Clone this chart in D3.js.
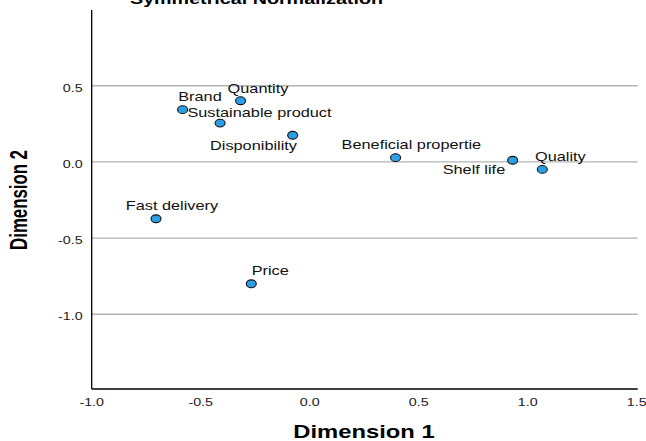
<!DOCTYPE html>
<html><head><meta charset="utf-8">
<script src="https://cdn.jsdelivr.net/npm/d3@7"></script>
<style>body{margin:0;background:#fff}svg{display:block}text{font-family:"Liberation Sans",Arial,sans-serif}</style>
</head><body><svg id="c" width="646" height="441"></svg>
<script>
const labels = ["Brand","Quantity","Sustainable product","Disponibility","Beneficial propertie","Shelf life","Quality","Fast delivery","Price"];
const dim1 = [-0.583,-0.317,-0.411,-0.078,0.394,0.931,1.067,-0.705,-0.268];
const dim2 = [0.343,0.402,0.255,0.175,0.028,0.011,-0.049,-0.373,-0.800];
const xTicks = [-1.0,-0.5,0.0,0.5,1.0,1.5];
const yTicks = [0.5,0.0,-0.5,-1.0];
// label placement (layout only): pixel offset of text start/baseline from its point
const labelOffset = [[-4.4,-9],[-13,-7.7],[-32.7,-6.3],[-82.7,14.7],[-54,-8.7],[-70,14],[-7.3,-8.6],[-30.3,-8.7],[0.4,-8.7]];

const SX = 1.36; // horizontal stretch of all type in the reference
const svg = d3.select("#c");
const x = d3.scaleLinear().domain([-1.0,1.5]).range([91.7,636.7]);
const y = d3.scaleLinear().domain([-1.5,1.0]).range([390.4,9.6]);
const plotRight = 637.7, plotBottom = 389, plotTop = 10;

function stext(g, tx, ty, str, size, anchor, weight, fill){
  return g.append("text").attr("transform",`translate(${tx},${ty}) scale(${SX},1)`)
    .attr("text-anchor",anchor).attr("font-size",size).attr("font-weight",weight||"normal")
    .attr("fill",fill||"#000").text(str);
}

// gridlines
svg.append("g").selectAll("line").data(yTicks).join("line")
  .attr("x1",x(-1.0)).attr("x2",plotRight)
  .attr("y1",d=>y(d)).attr("y2",d=>y(d))
  .attr("stroke","#b3b3b3").attr("stroke-width",1.3);

// axes (tick labels drawn through the scales)
const fmt = d3.format(".1f");
const xa = svg.append("g");
xTicks.forEach(v=>stext(xa, x(v), 405.7, fmt(v).replace("\u2212","-"), 10.5, "middle", "normal", "#1a1a1a"));
const ya = svg.append("g");
yTicks.forEach(v=>stext(ya, 82.7, y(v)+6, fmt(v).replace("\u2212","-"), 10.5, "end", "normal", "#1a1a1a"));
svg.append("line").attr("x1",x(-1.0)).attr("x2",x(-1.0)).attr("y1",plotTop).attr("y2",plotBottom).attr("stroke","#000").attr("stroke-width",1.3);
svg.append("line").attr("x1",x(-1.0)).attr("x2",plotRight).attr("y1",plotBottom).attr("y2",plotBottom).attr("stroke","#000").attr("stroke-width",1.3);

// titles
stext(svg, 256.5, 3.5, "Symmetrical Normalization", 14.5, "middle", "bold");
stext(svg, 364, 437.7, "Dimension 1", 17.5, "middle", "bold");
svg.append("text").attr("transform",`translate(27.3,200) rotate(-90) scale(0.96,${SX})`)
  .attr("text-anchor","middle").attr("font-size",17.5).attr("font-weight","bold").text("Dimension 2");

// points
const data = labels.map((l,i)=>({l,x:dim1[i],y:dim2[i],o:labelOffset[i]}));
svg.append("g").selectAll("ellipse").data(data).join("ellipse")
  .attr("cx",d=>x(d.x)).attr("cy",d=>y(d.y)).attr("rx",5).attr("ry",3.9)
  .attr("fill","#2a9fe8").attr("stroke","#111").attr("stroke-width",1.1);
const lg = svg.append("g");
data.forEach(d=>stext(lg, x(d.x)+d.o[0], y(d.y)+d.o[1], d.l, 12, "start", "normal", "#111"));
</script></body></html>
